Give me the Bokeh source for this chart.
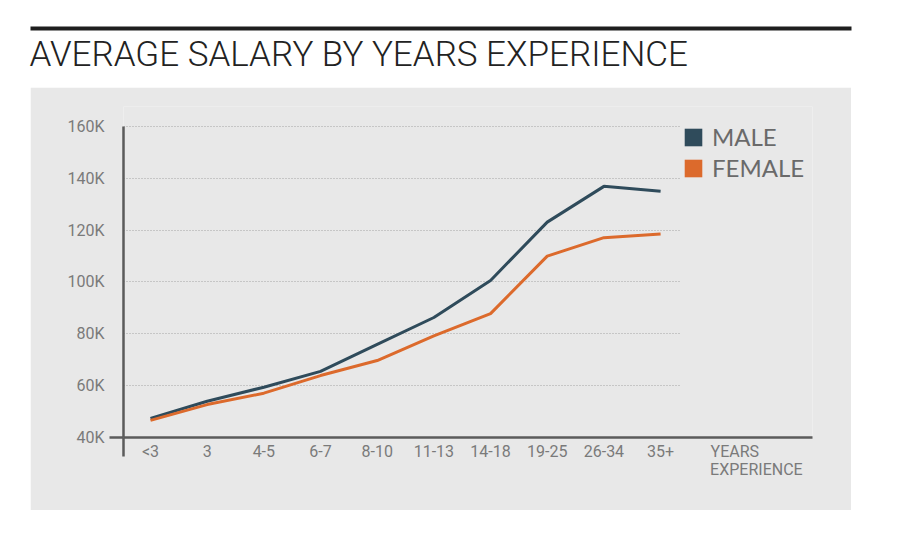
from bokeh.plotting import figure
from bokeh.models import (FixedTicker, LinearAxis, Label, Legend, LegendItem,
                          Range1d, Grid, Spacer)
from bokeh.layouts import column, row
from bokeh.embed import file_html
from bokeh.resources import INLINE

# ---- data ----
categories = ["<3", "3", "4-5", "6-7", "8-10", "11-13", "14-18", "19-25", "26-34", "35+"]
male = [47400, 54000, 59400, 65500, 75900, 86300, 100600, 123100, 136900, 135000]
female = [46600, 52700, 57100, 63900, 69700, 79200, 87800, 110000, 117100, 118500]
y_ticks = [40000, 60000, 80000, 100000, 120000, 140000, 160000]
y_tick_labels = ["40K", "60K", "80K", "100K", "120K", "140K", "160K"]
series_names = ["MALE", "FEMALE"]
x_caption = ["YEARS", "EXPERIENCE"]
title_text = "AVERAGE SALARY BY YEARS EXPERIENCE"

MALE_C = "#2f4b5b"
FEMALE_C = "#dc6a2c"
AXIS_C = "#5b5b5b"
TICK_C = "#7a7a7a"
PANEL_C = "#e8e8e8"
NAN = float("nan")
TITLE_FONT = "Roboto Light, Lato Light, Roboto"

xs = list(range(len(categories)))
X0, X1 = -0.476, 11.68
Y0, Y1 = 40000, 167717   # headroom above 160K so the legend is not clipped

# ---------- title strip ----------
top = figure(width=900, height=87, output_backend="svg", toolbar_location=None,
             x_range=Range1d(0, 900), y_range=Range1d(87, 0),
             x_axis_type=None, y_axis_type=None, min_border=0)
top.outline_line_color = None
top.grid.visible = False
top.background_fill_color = "white"
top.border_fill_color = "white"
top.quad(left=[30], right=[851], top=[26], bottom=[30], fill_color="#1e1e1e", line_color=None)
top.add_layout(Label(x=29, y=54, text=title_text,
                     text_font=TITLE_FONT, text_font_size="35px",
                     text_color="#222222", text_baseline="alphabetic"))

# ---------- main chart panel ----------
p = figure(width=821, height=423, output_backend="svg", toolbar_location=None,
           x_range=Range1d(X0, X1), y_range=Range1d(Y0, Y1),
           x_axis_type=None, y_axis_type=None,
           min_border_left=93, min_border_right=39, min_border_top=19, min_border_bottom=73)
p.background_fill_color = PANEL_C
p.border_fill_color = PANEL_C
p.outline_line_color = None
p.grid.visible = False

lab_style = dict(major_label_text_font="Roboto", major_label_text_font_size="16px",
                 major_label_text_color=TICK_C)
no_ticks = dict(axis_line_color=None, major_tick_line_color=None, minor_tick_line_color=None,
                major_tick_out=0, major_tick_in=0)

# left: stub axis (line + 40K stub), then label axis
y_stub = LinearAxis(ticker=FixedTicker(ticks=[y_ticks[0]]), bounds=(y_ticks[0], y_ticks[-1]),
                    major_label_overrides={y_ticks[0]: ""},
                    axis_line_color=AXIS_C, axis_line_width=2.5,
                    major_tick_line_color=AXIS_C, major_tick_line_width=2.5,
                    major_tick_out=14, major_tick_in=0, minor_tick_line_color=None,
                    major_label_standoff=0, major_label_text_font_size="1px")
y_lab = LinearAxis(ticker=FixedTicker(ticks=y_ticks),
                   major_label_overrides={t: l for t, l in zip(y_ticks, y_tick_labels)},
                   major_label_standoff=5, **no_ticks, **lab_style)
p.add_layout(y_stub, "left")
p.add_layout(y_lab, "left")

# below: stub axis (line + left stub), label axis, caption axes
x_stub = LinearAxis(ticker=FixedTicker(ticks=[X0]),
                    major_label_overrides={X0: ""},
                    axis_line_color=AXIS_C, axis_line_width=2.5,
                    major_tick_line_color=AXIS_C, major_tick_line_width=2.5,
                    major_tick_out=19, major_tick_in=0, minor_tick_line_color=None,
                    major_label_standoff=0, major_label_text_font_size="1px")
x_lab = LinearAxis(ticker=FixedTicker(ticks=xs),
                   major_label_overrides={i: c for i, c in zip(xs, categories)},
                   major_label_standoff=-15, **no_ticks, **lab_style)
cap1 = LinearAxis(ticker=FixedTicker(ticks=[10.31]),
                  major_label_overrides={10.31: x_caption[0]},
                  major_label_standoff=-22, **no_ticks, **lab_style)
cap2 = LinearAxis(ticker=FixedTicker(ticks=[10.69]),
                  major_label_overrides={10.69: x_caption[1]},
                  major_label_standoff=-4, **no_ticks, **lab_style)
p.add_layout(x_stub, "below")
p.add_layout(x_lab, "below")
p.add_layout(cap1, "below")
p.add_layout(cap2, "below")

# grid
p.add_layout(Grid(dimension=1, ticker=FixedTicker(ticks=y_ticks[1:]),
                  grid_line_color="#a5a5a5", grid_line_dash="1 2", grid_line_width=1,
                  cross_bounds=(X0, 9.33)))

# lines
p.line(xs, male, line_color=MALE_C, line_width=3)
p.line(xs, female, line_color=FEMALE_C, line_width=3)

# legend proxies
r_m = p.quad(left=[NAN], right=[NAN], top=[NAN], bottom=[NAN], fill_color=MALE_C, line_color=None)
r_f = p.quad(left=[NAN], right=[NAN], top=[NAN], bottom=[NAN], fill_color=FEMALE_C, line_color=None)
legend = Legend(items=[LegendItem(label=series_names[0], renderers=[r_m]),
                       LegendItem(label=series_names[1], renderers=[r_f])],
                location=(559, 255), glyph_width=22, glyph_height=22,
                label_text_font="Lato", label_text_font_size="24px",
                label_text_color="#6a6a6a", label_standoff=8,
                border_line_color=None, background_fill_alpha=0,
                padding=0, margin=0, spacing=2)
p.add_layout(legend)

layout = column(top, row(Spacer(width=30, height=423), p))
open("out.html", "w").write(file_html(layout, INLINE))
